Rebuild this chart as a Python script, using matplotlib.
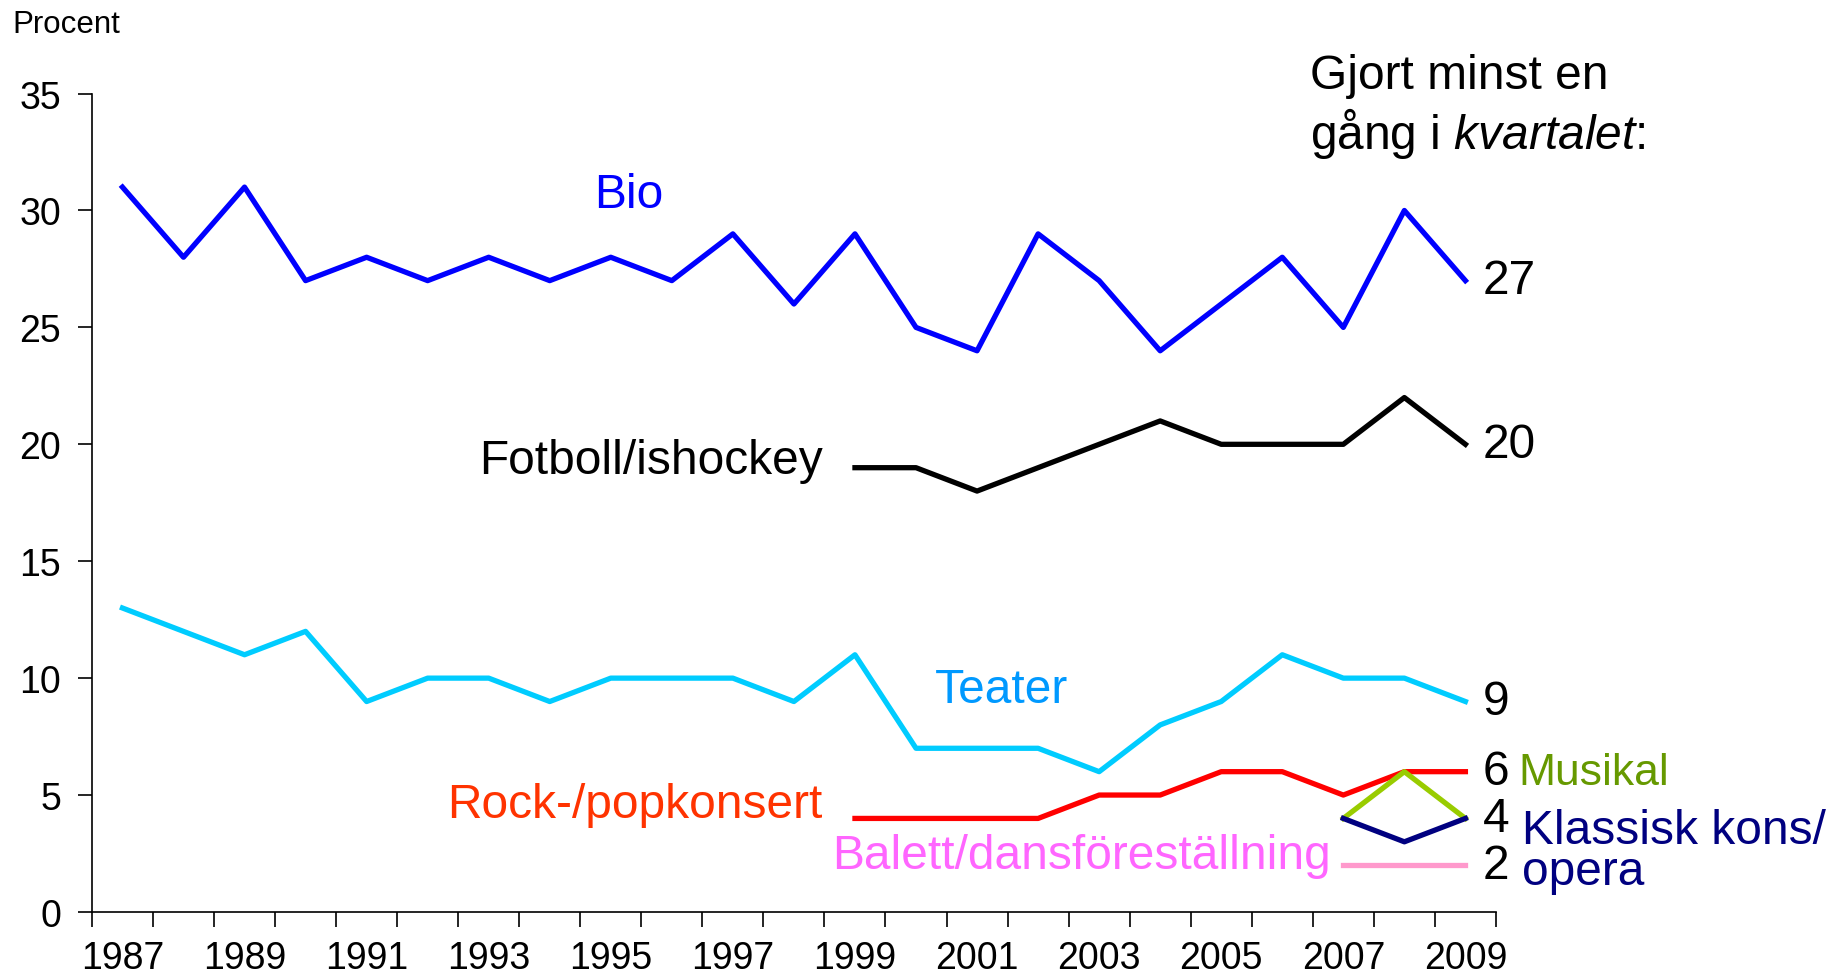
import matplotlib
matplotlib.use("Agg")
import matplotlib.pyplot as plt
import numpy as np

plt.rcParams['font.family'] = ['Liberation Sans', 'DejaVu Sans']
plt.rcParams['mathtext.fontset'] = 'custom'
plt.rcParams['mathtext.rm'] = 'Liberation Sans'
plt.rcParams['mathtext.it'] = 'Liberation Sans:italic'

years = list(range(1987, 2010))

bio = [31, 28, 31, 27, 28, 27, 28, 27, 28, 27, 29, 26, 29, 25, 24, 29, 27, 24, 26, 28, 25, 30, 27]
teater = [13, 12, 11, 12, 9, 10, 10, 9, 10, 10, 10, 9, 11, 7, 7, 7, 6, 8, 9, 11, 10, 10, 9]

years_sport = list(range(1999, 2010))
fotboll = [19, 19, 18, 19, 20, 21, 20, 20, 20, 22, 20]
rock = [4, 4, 4, 4, 5, 5, 6, 6, 5, 6, 6]

years_short = [2007, 2008, 2009]
musikal = [4, 6, 4]
klassisk = [4, 3, 4]
balett = [2, 2, 2]

tick_years = years[::2]


def xpos(yrs):
    return np.array(yrs) - years[0]


fig = plt.figure(figsize=(18.31, 9.78), dpi=100)
ax = fig.add_axes([0.0502, 0.0665, 0.7668, 0.8368])

lw = 3.8
ax.plot(xpos(years), bio, color='#0000FF', lw=lw)
ax.plot(xpos(years_sport), fotboll, color='#000000', lw=lw)
ax.plot(xpos(years), teater, color='#00CCFF', lw=lw)
ax.plot(xpos(years_sport), rock, color='#FF0000', lw=lw)
ax.plot(xpos(years_short), musikal, color='#99CC00', lw=lw)
ax.plot(xpos(years_short), klassisk, color='#000080', lw=lw)
ax.plot(xpos(years_short), balett, color='#FF99CC', lw=lw)

ax.set_xlim(-0.5, len(years) - 0.5)
ax.set_ylim(0, 35)
ax.set_yticks(range(0, 36, 5))
ax.set_xticks(xpos(tick_years))
ax.set_xticklabels([str(y) for y in tick_years])
ax.set_xticks(np.arange(-0.5, len(years), 1), minor=True)
ax.tick_params(axis='x', which='major', length=0, pad=20, labelsize=27)
ax.tick_params(axis='x', which='minor', length=11, width=1.2, direction='out')
ax.tick_params(axis='y', length=10, width=1.2, direction='out', pad=12, labelsize=27)

for s in ['top', 'right']:
    ax.spines[s].set_visible(False)
for s in ['left', 'bottom']:
    ax.spines[s].set_linewidth(1.2)

fig.text(0.0066, 0.99, 'Procent', fontsize=22.5, va='top', ha='left')

lab = 34.5
ax.text(8.3, 30.7, 'Bio', color='#0000FF', fontsize=lab, ha='center', va='center')
ax.text(11.47, 19.3, 'Fotboll/ishockey', color='black', fontsize=lab, ha='right', va='center')
ax.text(14.4, 9.5, 'Teater', color='#0099FF', fontsize=lab, ha='center', va='center')
ax.text(11.47, 4.6, 'Rock-/popkonsert', color='#FF3300', fontsize=lab, ha='right', va='center')
ax.text(19.8, 2.4, 'Balett/dansföreställning', color='#FF66FF', fontsize=lab, ha='right', va='center')

# end values
last_x = xpos(years)[-1] + 0.28
for v in [bio[-1], fotboll[-1], teater[-1], rock[-1], musikal[-1], balett[-1]]:
    ax.text(last_x, v, str(v), fontsize=lab, ha='left', va='center', clip_on=False)

ax.text(22.86, 5.95, 'Musikal', color='#669900', fontsize=32, ha='left', va='center', clip_on=False)
ax.text(22.93, 3.5, 'Klassisk kons/', color='#000080', fontsize=lab, ha='left', va='center', clip_on=False)
ax.text(22.93, 1.75, 'opera', color='#000080', fontsize=lab, ha='left', va='center', clip_on=False)

fig.text(0.7155, 0.922, 'Gjort minst en', fontsize=lab, ha='left', va='center')
fig.text(0.7155, 0.863, 'gång i $\\mathit{kvartalet}$:', fontsize=lab, ha='left', va='center')

fig.savefig('out.png', dpi=100)
